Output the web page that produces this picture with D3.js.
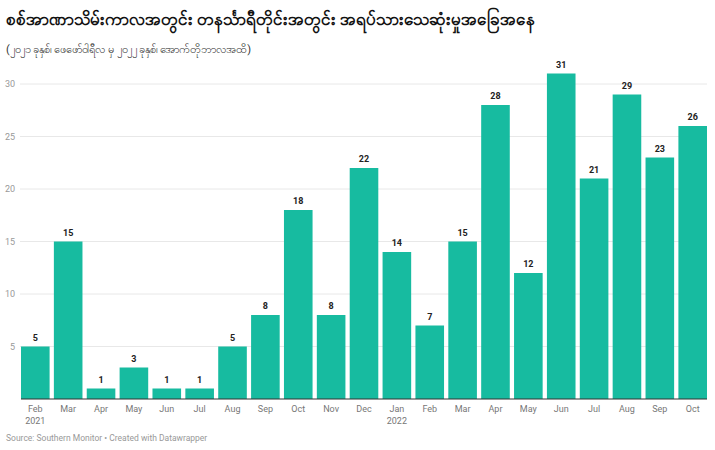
<!DOCTYPE html>
<html>
<head>
<meta charset="utf-8">
<script src="https://cdn.jsdelivr.net/npm/d3@7"></script>
<style>
  body { margin: 0; background: #fff; font-family: Roboto, "Noto Sans", sans-serif; }
</style>
</head>
<body>
<script>
// chart data
const months = ["Feb", "Mar", "Apr", "May", "Jun", "Jul", "Aug", "Sep", "Oct", "Nov", "Dec",
                "Jan", "Feb", "Mar", "Apr", "May", "Jun", "Jul", "Aug", "Sep", "Oct"];
const years = ["2021", "", "", "", "", "", "", "", "", "", "", "2022", "", "", "", "", "", "", "", "", ""];
const deaths = [5, 15, 1, 3, 1, 1, 5, 8, 18, 8, 22, 14, 7, 15, 28, 12, 31, 21, 29, 23, 26];
const yTicks = [5, 10, 15, 20, 25, 30];

const titleText = "စစ်အာဏာသိမ်းကာလအတွင်း တနင်္သာရီတိုင်းအတွင်း အရပ်သားသေဆုံးမှုအခြေအနေ";
const subtitleText = "(၂၀၂၁ ခုနှစ်၊ ဖေဖော်ဝါရီလ မှ ၂၀၂၂ ခုနှစ်၊ အောက်တိုဘာလအထိ)";

const W = 715, H = 450;
const margin = {top: 84, right: 8, bottom: 51, left: 21};
const width = W - margin.left - margin.right;
const height = H - margin.top - margin.bottom;

const svg = d3.select('body')
  .append('svg')
  .attr('width', W)
  .attr('height', H);

// Title and subtitle
svg.append('text')
  .attr('x', 6)
  .attr('y', 25)
  .attr('font-size', '17px')
  .attr('font-weight', 'bold')
  .attr('fill', '#111')
  .text(titleText);

svg.append('text')
  .attr('x', 6)
  .attr('y', 53)
  .attr('font-size', '11px')
  .attr('fill', '#333')
  .text(subtitleText);

const g = svg.append('g')
  .attr('transform', `translate(${margin.left}, ${margin.top})`);

const xScale = d3.scaleBand()
  .domain(d3.range(deaths.length))
  .range([0, width])
  .paddingInner(0.13)
  .paddingOuter(0);

const yScale = d3.scaleLinear()
  .domain([0, 30])
  .range([height, 0]);

// gridlines
g.selectAll('line.grid')
  .data(yTicks)
  .enter()
  .append('line')
  .attr('class', 'grid')
  .attr('x1', -1)
  .attr('x2', width)
  .attr('y1', d => yScale(d))
  .attr('y2', d => yScale(d))
  .attr('stroke', '#e8e8e8')
  .attr('stroke-width', 1);

// y labels
g.selectAll('text.ylab')
  .data(yTicks)
  .enter()
  .append('text')
  .attr('class', 'ylab')
  .attr('x', -6)
  .attr('y', d => yScale(d) + 3)
  .attr('text-anchor', 'end')
  .attr('font-size', '9px')
  .attr('fill', '#999')
  .text(d => d);

// bars
g.selectAll('rect')
  .data(deaths)
  .enter()
  .append('rect')
  .attr('x', (d, i) => xScale(i))
  .attr('y', d => yScale(d))
  .attr('width', xScale.bandwidth())
  .attr('height', d => height - yScale(d))
  .attr('fill', '#17bba0');

// value labels
g.selectAll('text.val')
  .data(deaths)
  .enter()
  .append('text')
  .attr('class', 'val')
  .attr('x', (d, i) => xScale(i) + xScale.bandwidth() / 2)
  .attr('y', d => yScale(d) - 6)
  .attr('text-anchor', 'middle')
  .attr('font-size', '9px')
  .attr('font-weight', 'bold')
  .attr('fill', '#222')
  .text(d => d);

// baseline
g.append('line')
  .attr('x1', 0)
  .attr('x2', width)
  .attr('y1', height)
  .attr('y2', height)
  .attr('stroke', '#333')
  .attr('stroke-width', 1);

// x labels
g.selectAll('text.month')
  .data(months)
  .enter()
  .append('text')
  .attr('class', 'month')
  .attr('x', (d, i) => xScale(i) + xScale.bandwidth() / 2)
  .attr('y', height + 13)
  .attr('text-anchor', 'middle')
  .attr('font-size', '9px')
  .attr('fill', '#777')
  .text(d => d);

g.selectAll('text.year')
  .data(years)
  .enter()
  .append('text')
  .attr('class', 'year')
  .attr('x', (d, i) => xScale(i) + xScale.bandwidth() / 2)
  .attr('y', height + 25)
  .attr('text-anchor', 'middle')
  .attr('font-size', '9px')
  .attr('fill', '#777')
  .text(d => d);

// footer
svg.append('text')
  .attr('x', 6)
  .attr('y', 441)
  .attr('font-size', '8.5px')
  .attr('fill', '#999')
  .text('Source: Southern Monitor • Created with Datawrapper');
</script>
</body>
</html>
